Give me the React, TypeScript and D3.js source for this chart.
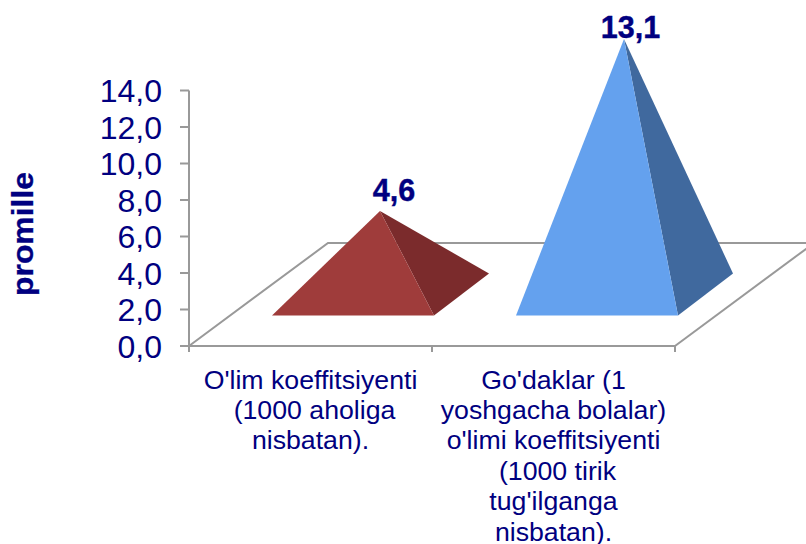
import React from "react";
import * as d3 from "d3";

const categoryLines = [
  ["O'lim koeffitsiyenti", "(1000 aholiga", "nisbatan)."],
  ["Go'daklar (1", "yoshgacha bolalar)", "o'limi koeffitsiyenti", "(1000 tirik", "tug'ilganga", "nisbatan)."],
];
const values = [4.6, 13.1];
const valueLabels = ["4,6", "13,1"];
const ticks = [0, 2, 4, 6, 8, 10, 12, 14];
const frontColors = ["#9f3c3b", "#64a1ee"];
const sideColors = ["#7b2b2c", "#40699e"];
const axisTitle = "promille";

const W = 806, H = 544;
const NAVY = "#000080";
const FONT = "'Liberation Sans', Arial, sans-serif";
const GREY = "#999999";

const y = d3.scaleLinear().domain([0, 14]).range([346, 90.5]);
// Apex height carries the perspective foreshortening of the 3D plot
const apexY = d3.scaleLinear().domain([0, 14]).range([304, 20.7]);
const x = d3.scaleBand<number>().domain([0, 1]).range([189, 675]);
const depthX = 139, depthY = -103;
const barInset = 83, baseFrontY = 315.5, baseDepthX = 55, baseDepthY = -42;

export default function App() {
  const line = d3.line();
  return (
    <svg width={W} height={H} viewBox={`0 0 ${W} ${H}`} style={{ position: "absolute", left: 0, top: 0, background: "#fff" }}>
      {/* floor */}
      <path
        d={line([
          [x.range()[0], y(0)],
          [x.range()[0] + depthX, y(0) + depthY],
          [W, y(0) + depthY],
        ])!}
        fill="none" stroke={GREY} strokeWidth={2}
      />
      <path d={line([[x.range()[1], y(0)], [x.range()[1] + depthX, y(0) + depthY]])!} fill="none" stroke={GREY} strokeWidth={2} />
      {/* axes */}
      <line x1={x.range()[0]} x2={x.range()[0]} y1={y(14)} y2={y(0) + 6} stroke={GREY} strokeWidth={2} />
      <line x1={x.range()[0] - 9} x2={x.range()[1]} y1={y(0)} y2={y(0)} stroke={GREY} strokeWidth={2} />
      {ticks.map((t) => (
        <g key={t}>
          <line x1={180} x2={189} y1={y(t)} y2={y(t)} stroke={GREY} strokeWidth={2} />
          <text x={162} y={y(t) + 11.5} textAnchor="end" fontFamily={FONT} fontSize={32} fill={NAVY}>
            {d3.format(".1f")(t).replace(".", ",")}
          </text>
        </g>
      ))}
      {[...x.domain(), 2].map((i) => (
        <line key={i} x1={189 + i * x.bandwidth()} x2={189 + i * x.bandwidth()} y1={y(0)} y2={y(0) + 6} stroke={GREY} strokeWidth={2} />
      ))}
      {/* pyramids */}
      {values.map((v, i) => {
        const left = x(i)! + barInset + i;
        const right = x(i)! + x.bandwidth() + 2 + i;
        const apex: [number, number] = [(left + right + baseDepthX) / 2 - 0.5, apexY(v)];
        const fl: [number, number] = [left, baseFrontY];
        const fr: [number, number] = [right, baseFrontY];
        const br: [number, number] = [right + baseDepthX, baseFrontY + baseDepthY];
        return (
          <g key={i}>
            <path d={line([apex, fr, br])! + "Z"} fill={sideColors[i]} />
            <path d={line([apex, fl, fr])! + "Z"} fill={frontColors[i]} />
            <text x={apex[0] + (i === 0 ? 14 : 6.5)} y={apex[1] - (i === 0 ? 10 : 1)} textAnchor="middle" fontFamily={FONT} fontWeight="bold" fontSize={30.5} fill={NAVY} stroke={NAVY} strokeWidth={0.4}>
              {valueLabels[i]}
            </text>
          </g>
        );
      })}
      {/* category labels */}
      {categoryLines.map((lines, i) => (
        <text key={i} textAnchor="middle" fontFamily={FONT} fontSize={26.7} fill={NAVY}>
          {lines.map((l, k) => (
            <tspan key={k} x={x(i)! + x.bandwidth() / 2 + (l.startsWith("(") ? 4 : 0)} y={388.5 + k * 30.4}>{l}</tspan>
          ))}
        </text>
      ))}
      <text transform="translate(33,234) rotate(-90)" textAnchor="middle" fontFamily={FONT} fontWeight="bold" fontSize={29} textLength={124} lengthAdjust="spacingAndGlyphs" fill={NAVY} stroke={NAVY} strokeWidth={0.3}>
        {axisTitle}
      </text>
    </svg>
  );
}
